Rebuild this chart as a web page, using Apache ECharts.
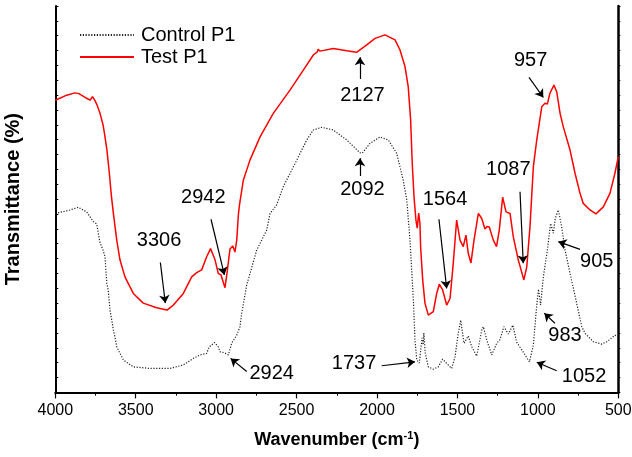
<!DOCTYPE html>
<html>
<head>
<meta charset="utf-8">
<script src="https://cdn.jsdelivr.net/npm/echarts@6/dist/echarts.min.js"></script>
<style>
html,body{margin:0;padding:0;background:#fff;}
#chart{width:632px;height:457px;}
</style>
</head>
<body>
<div id="chart"></div>
<script>
// Wavenumber (cm-1) and transmittance (arbitrary 0-100 scale)
const testWn = [4000,3929,3878,3853,3805,3784,3769,3753,3741,3722,3703,3691,3679,3664,3652,3639,3618,3598,3567,3515,3453,3370,3306,3266,3204,3152,3121,3090,3059,3035,3007,2987,2970,2945,2934,2914,2897,2883,2872,2862,2855,2831,2790,2727,2645,2541,2458,2396,2371,2367,2354,2272,2188,2127,2064,2012,1950,1888,1857,1826,1806,1791,1781,1770,1758,1750,1741,1733,1729,1716,1702,1681,1650,1629,1613,1592,1567,1546,1526,1505,1484,1464,1447,1433,1416,1397,1370,1349,1329,1316,1302,1277,1257,1240,1219,1198,1173,1153,1122,1087,1069,1049,1028,1007,976,956,941,925,900,883,862,842,800,769,738,718,676,639,593,552,521,500];
const testT = [75.6,76.9,77.5,77.3,76.1,75.6,76.5,75.5,74.4,72.2,69.2,66.1,62.7,56.7,51.1,46.3,39.4,34.3,29.9,25.6,23.1,21.9,21.3,22.6,25.6,29.9,31.0,31.7,35.1,37.2,34.3,30.8,30.4,27.1,30.4,37.1,37.9,36.3,39.4,45.9,48.5,54.9,60.1,66.1,72.2,78.2,83.4,87.3,88.1,88.8,88.3,89.0,88.4,88.0,89.9,91.6,92.5,91.2,88.6,84.3,79.1,70.5,59.3,50.6,44.6,42.5,46.4,43.7,37.7,29.1,23.1,20.0,20.9,25.6,28.0,26.5,22.6,24.3,33.4,44.6,39.4,37.7,40.7,36.0,33.5,39.4,46.3,45.0,42.3,42.9,42.8,39.4,37.7,42.0,50.5,46.7,46.3,40.3,34.3,29.1,32.5,42.9,58.4,65.3,73.9,74.8,74.6,77.4,79.5,77.8,72.2,68.7,62.7,56.7,51.5,48.9,47.2,46.2,48.0,51.5,56.7,61.0];

const controlWn = [4000,3958,3909,3857,3805,3764,3743,3722,3703,3691,3680,3671,3660,3649,3639,3629,3618,3598,3577,3567,3515,3411,3287,3204,3142,3100,3059,3043,3010,2987,2976,2951,2924,2903,2872,2852,2841,2810,2748,2686,2665,2624,2583,2499,2437,2396,2344,2272,2188,2106,2092,2044,1981,1930,1878,1837,1815,1795,1774,1764,1753,1737,1729,1720,1713,1709,1700,1681,1650,1619,1592,1567,1536,1515,1495,1480,1459,1433,1411,1380,1349,1339,1318,1287,1256,1236,1211,1184,1155,1132,1100,1080,1052,1028,1007,996,983,966,941,921,904,892,873,852,831,800,759,727,707,655,603,572,552,521,500];
const controlT = [46.3,46.7,47.2,47.9,46.7,44.2,43.6,38.7,36.8,35.1,28.2,26.5,21.3,18.7,16.1,14.3,11.8,10.1,8.4,7.9,6.6,6.2,6.2,7.1,8.8,9.7,10.1,11.8,12.9,11.8,10.5,10.3,9.7,12.8,14.8,17.0,20.5,27.8,36.8,42.0,46.3,48.5,53.2,60.1,65.3,67.9,68.6,67.9,65.3,62.0,61.9,64.4,66.1,65.3,61.9,54.9,49.8,39.4,23.9,13.6,8.4,7.6,7.9,14.1,12.3,15.4,10.1,6.6,6.0,6.6,8.6,7.5,6.2,9.2,15.3,18.7,12.7,14.6,11.8,9.4,16.1,17.0,13.6,9.7,12.7,13.6,17.0,15.1,17.4,13.0,11.0,9.7,7.9,12.3,22.6,26.7,22.6,29.9,36.8,43.7,41.2,45.0,47.2,42.9,36.8,30.8,23.1,17.0,15.3,13.1,12.5,13.1,13.7,14.8,14.4];

const xTicks = [4000,3500,3000,2500,2000,1500,1000,500];
const seriesNames = ['Control P1','Test P1'];

// Annotations: label, text position [wn,T], arrow from [wn,T], arrow to [wn,T]
const annLabels = ['3306','2942','2924','2127','2092','1564','1087','957','905','983','1737','1052'];
const annText = [[3355,39.2],[3080,50.5],[2655,4.9],[2091,76.9],[2091,52.4],[1577,50.0],[1184,57.7],[1045,86.0],[634,33.8],[831,14.8],[2143,7.5],[713,4.1]];
const annFrom = [[3347,33.6],[3032,44.8],[2810,5.4],[2106,81.1],[2106,56.0],[1615,44.8],[1111,51.9],[1055,81.5],[738,37.0],[894,17.9],[1971,6.9],[883,5.6]];
const annTo = [[3316,23.1],[2949,30.4],[2910,8.8],[2106,86.7],[2106,60.6],[1567,26.9],[1091,33.4],[966,76.3],[873,39.0],[960,20.5],[1764,7.9],[1007,7.8]];

const zip = (a, b) => a.map((v, i) => [v, b[i]]);

const chart = echarts.init(document.getElementById('chart'), null, {renderer: 'canvas'});
const FONT = 'Liberation Sans, Arial, sans-serif';

const option = {
  animation: false,
  backgroundColor: '#fff',
  textStyle: {fontFamily: FONT},
  grid: {left: 55.3, right: 13.7, top: 5.9, bottom: 64.6, containLabel: false, outerBoundsMode: 'none'},
  legend: {
    orient: 'vertical', left: 74, top: 20, itemGap: 2,
    itemWidth: 54, itemHeight: 14,
    itemStyle: {opacity: 0},
    textStyle: {fontSize: 20, color: '#000', fontFamily: FONT, padding: [0, 0, 0, 2]},
    data: seriesNames
  },
  xAxis: [{
    type: 'value', inverse: true, min: 500, max: 4000, interval: 500,
    position: 'bottom',
    axisLine: {lineStyle: {color: '#000', width: 2}},
    axisTick: {inside: false, length: 6, lineStyle: {color: '#000', width: 1.2}},
    minorTick: {show: true, splitNumber: 2, length: 3, lineStyle: {color: '#000', width: 1}},
    splitLine: {show: false},
    axisLabel: {fontSize: 16, color: '#000', margin: 10, fontFamily: FONT,
      formatter: v => xTicks.includes(v) ? String(v) : ''},
    name: '{b|Wavenumber (cm}{s|-1}{b|)}',
    nameLocation: 'middle', nameGap: 38,
    nameTextStyle: {rich: {
      b: {fontSize: 18, fontWeight: 'bold', color: '#000', fontFamily: FONT},
      s: {fontSize: 11, fontWeight: 'bold', color: '#000', fontFamily: FONT, verticalAlign: 'bottom', padding: [0, 0, 8, 0]}
    }}
  }, {
    type: 'value', inverse: true, min: 500, max: 4000, interval: 250,
    position: 'top',
    axisLine: {lineStyle: {color: '#000', width: 1}},
    axisTick: {inside: true, length: 3, lineStyle: {color: '#000', width: 1}},
    axisLabel: {show: false}, splitLine: {show: false}
  }],
  yAxis: [{
    type: 'value', min: 0, max: 100, interval: 100 / 26,
    position: 'left',
    axisLine: {show: true, lineStyle: {color: '#000', width: 2}},
    axisTick: {show: true, inside: true, length: 3, lineStyle: {color: '#000', width: 1}},
    axisLabel: {show: false}, splitLine: {show: false},
    name: 'Transmittance (%)', nameLocation: 'middle', nameGap: 32,
    nameTextStyle: {fontSize: 20, fontWeight: 'bold', color: '#000', fontFamily: FONT}
  }, {
    type: 'value', min: 0, max: 100, interval: 100 / 26,
    position: 'right',
    axisLine: {show: true, lineStyle: {color: '#000', width: 2.5}},
    axisTick: {show: true, inside: false, length: 2, lineStyle: {color: '#000', width: 1}},
    axisLabel: {show: false}, splitLine: {show: false}
  }],
  series: [{
    name: seriesNames[0], type: 'line', symbol: 'none', xAxisIndex: 0, yAxisIndex: 0,
    data: zip(controlWn, controlT),
    lineStyle: {color: '#222', width: 1.2, type: [1.2, 1.6]},
    itemStyle: {color: '#222'}
  }, {
    name: seriesNames[1], type: 'line', symbol: 'none', xAxisIndex: 0, yAxisIndex: 0,
    data: zip(testWn, testT),
    lineStyle: {color: '#ff0000', width: 1.5},
    itemStyle: {color: '#ff0000'},
    markLine: {
      silent: true, symbol: ['none', 'arrow'], symbolSize: 8,
      label: {show: false},
      lineStyle: {color: '#000', width: 1.2, type: 'solid'},
      emphasis: {disabled: true},
      data: annLabels.map((l, i) => [{coord: annFrom[i]}, {coord: annTo[i]}])
    },
    markPoint: {
      silent: true, symbol: 'circle', symbolSize: 0,
      label: {show: true, position: 'inside', color: '#000', fontSize: 20, fontFamily: FONT,
        formatter: p => p.name},
      data: annLabels.map((l, i) => ({name: l, coord: annText[i]}))
    }
  }]
};
chart.setOption(option);
</script>
</body>
</html>
